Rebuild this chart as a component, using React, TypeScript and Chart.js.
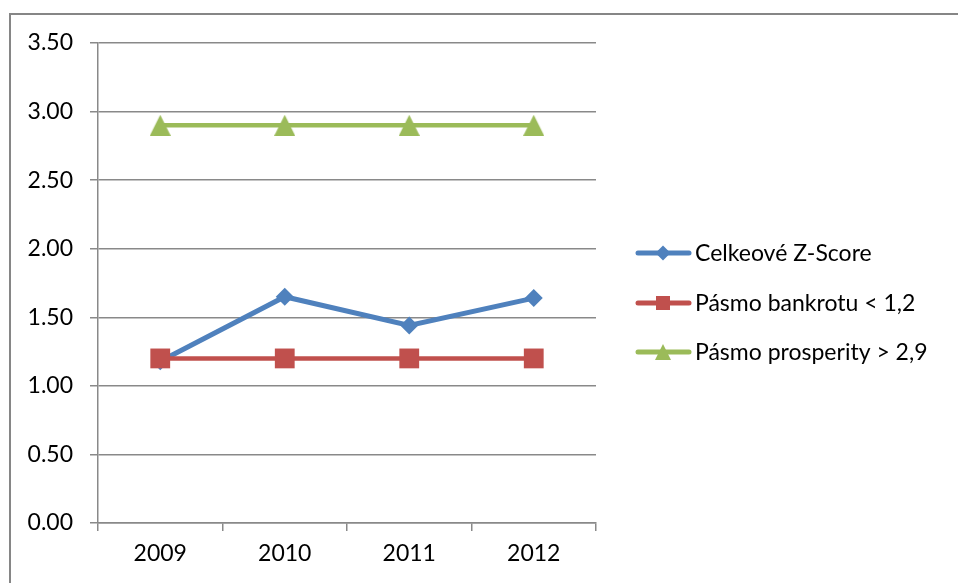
import React, { useEffect, useRef } from "react";
import { Chart, registerables } from "chart.js";

Chart.register(...registerables);

const categories = ["2009", "2010", "2011", "2012"];
const zScore = [1.18, 1.65, 1.44, 1.64];
const bankruptcy = [1.2, 1.2, 1.2, 1.2];
const prosperity = [2.9, 2.9, 2.9, 2.9];
const seriesNames = ["Celkeové Z-Score", "Pásmo bankrotu < 1,2", "Pásmo prosperity > 2,9"];
const seriesColors = ["#4F81BD", "#C0504D", "#9BBB59"];
const seriesMarkers = ["rectRot", "rect", "triangle"];

const FONT = "Lato, 'Open Sans', sans-serif";
const GRID = "#898989";

function drawMarker(ctx: CanvasRenderingContext2D, style: string, x: number, y: number, s: number, color: string) {
  ctx.save();
  ctx.fillStyle = color;
  ctx.beginPath();
  if (style === "rectRot") {
    ctx.moveTo(x, y - s);
    ctx.lineTo(x + s, y);
    ctx.lineTo(x, y + s);
    ctx.lineTo(x - s, y);
  } else if (style === "rect") {
    ctx.rect(x - s, y - s, 2 * s, 2 * s);
  } else {
    ctx.moveTo(x, y - s);
    ctx.lineTo(x + s, y + s);
    ctx.lineTo(x - s, y + s);
  }
  ctx.closePath();
  ctx.fill();
  ctx.restore();
}

function triangleImage(color: string, size: number) {
  const c = document.createElement("canvas");
  c.width = size;
  c.height = size;
  const cx = c.getContext("2d")!;
  drawMarker(cx, "triangle", size / 2, size / 2, size / 2, color);
  return c;
}

const frameAndLegend = {
  id: "frameAndLegend",
  beforeDraw(chart: any) {
    const ctx = chart.ctx;
    ctx.save();
    ctx.strokeStyle = "#868686";
    ctx.lineWidth = 2;
    ctx.strokeRect(10, 14, 1000, 700);
    ctx.restore();
  },
  afterDraw(chart: any) {
    const ctx = chart.ctx;
    const ys = [253, 303, 352];
    const sizes = [7.5, 7, 8];
    chart.data.datasets.forEach((ds: any, i: number) => {
      const y = ys[i];
      ctx.save();
      ctx.strokeStyle = ds.borderColor;
      ctx.lineWidth = 5;
      ctx.lineCap = "round";
      ctx.beginPath();
      ctx.moveTo(638, y);
      ctx.lineTo(689, y);
      ctx.stroke();
      drawMarker(ctx, seriesMarkers[i], 663, y, sizes[i], ds.borderColor);
      ctx.fillStyle = "#000";
      ctx.font = `23px ${FONT}`;
      ctx.textBaseline = "middle";
      ctx.textAlign = "left";
      ctx.fillText(ds.label, 695, y + 1);
      ctx.restore();
    });
  },
};

export default function App() {
  const ref = useRef<HTMLCanvasElement | null>(null);
  useEffect(() => {
    if (!ref.current) return;
    const data = [zScore, bankruptcy, prosperity];
    const radii = [9, 14, 12];
    const widths = [5, 4.5, 4.5];
    const tri = triangleImage(seriesColors[2], 21);
    const chart = new Chart(ref.current, {
      type: "line",
      data: {
        labels: categories,
        datasets: data.map((d, i) => ({
          label: seriesNames[i],
          data: d,
          borderColor: seriesColors[i],
          backgroundColor: seriesColors[i],
          pointBackgroundColor: seriesColors[i],
          pointBorderColor: seriesColors[i],
          pointBorderWidth: 0,
          pointStyle: (i === 2 ? tri : seriesMarkers[i]) as any,
          pointRadius: radii[i],
          borderWidth: widths[i],
          tension: 0,
          order: 3 - i,
        })),
      },
      options: {
        responsive: false,
        animation: false,
        events: [],
        layout: { padding: { top: 43, right: 362, left: 0, bottom: 0 } },
        plugins: { legend: { display: false }, tooltip: { enabled: false } },
        scales: {
          x: {
            offset: true,
            afterFit: (s: any) => { s.height = 60; },
            grid: { display: true, drawOnChartArea: false, drawTicks: true, tickLength: 8, offset: true, color: GRID, lineWidth: 1.5 },
            border: { display: true, color: GRID, width: 1.5 },
            ticks: { color: "#000", font: { family: FONT, size: 23 }, padding: 9 },
          },
          y: {
            min: 0,
            max: 3.5,
            afterFit: (s: any) => { s.width = 98; },
            grid: { color: GRID, lineWidth: 1.5, tickLength: 8, drawTicks: true },
            border: { display: true, color: GRID, width: 1.5 },
            ticks: {
              stepSize: 0.5,
              color: "#000",
              font: { family: FONT, size: 23 },
              padding: 17,
              callback: (v: any) => Number(v).toFixed(2),
            },
          },
        },
      },
      plugins: [frameAndLegend],
    });
    return () => chart.destroy();
  }, []);
  return (
    <div style={{ position: "fixed", left: 0, top: 0, width: 958, height: 583, background: "#fff" }}>
      <canvas ref={ref} width={958} height={583} style={{ width: 958, height: 583, display: "block" }} />
    </div>
  );
}
